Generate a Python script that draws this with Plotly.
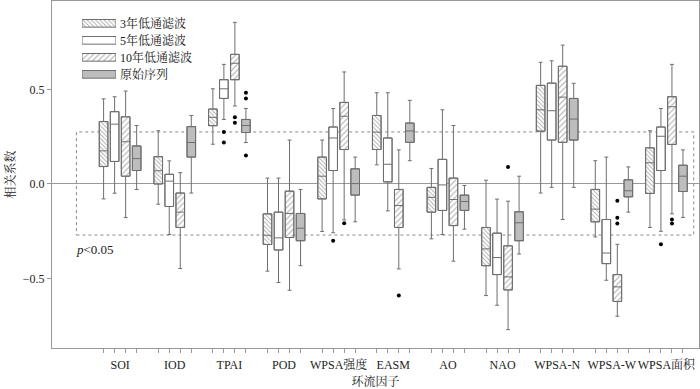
import plotly.graph_objects as go

categories = ['SOI', 'IOD', 'TPAI', 'POD', 'WPSA强度', 'EASM', 'AO', 'NAO', 'WPSA-N', 'WPSA-W', 'WPSA面积']
series_names = ['3年低通滤波', '5年低通滤波', '10年低通滤波', '原始序列']

# box statistics per series (one value per category)
upper_3 = [0.450, 0.281, 0.503, 0.031, 0.232, 0.482, 0.082, 0.020, 0.643, 0.123, 0.281]
q3_3 = [0.330, 0.144, 0.396, -0.158, 0.142, 0.362, -0.018, -0.230, 0.521, -0.029, 0.191]
med_3 = [0.175, 0.070, 0.352, -0.271, 0.041, 0.274, -0.071, -0.343, 0.392, -0.133, 0.112]
q1_3 = [0.092, 0.000, 0.308, -0.320, -0.079, 0.182, -0.149, -0.432, 0.279, -0.200, -0.050]
lower_3 = [-0.079, -0.107, 0.210, -0.461, -0.251, 0.101, -0.290, -0.590, -0.048, -0.280, -0.230]

upper_5 = [0.461, 0.122, 0.632, 0.031, 0.399, 0.482, 0.392, -0.080, 0.651, 0.142, 0.399]
q3_5 = [0.382, 0.051, 0.551, -0.149, 0.301, 0.243, 0.130, -0.260, 0.533, -0.188, 0.301]
med_5 = [0.316, 0.015, 0.503, -0.285, 0.243, 0.104, -0.005, -0.389, 0.387, -0.365, 0.252]
q1_5 = [0.119, -0.119, 0.452, -0.349, 0.071, 0.011, -0.140, -0.479, 0.232, -0.421, 0.071]
lower_5 = [-0.049, -0.267, 0.341, -0.521, -0.258, -0.142, -0.267, -0.641, -0.018, -0.509, -0.250]

upper_10 = [0.491, 0.060, 0.854, 0.232, 0.592, 0.180, 0.309, -0.091, 0.734, -0.319, 0.632]
q3_10 = [0.355, -0.048, 0.685, -0.038, 0.431, -0.029, 0.031, -0.327, 0.622, -0.479, 0.461]
med_10 = [0.223, -0.149, 0.638, -0.156, 0.358, -0.114, -0.082, -0.491, 0.459, -0.544, 0.408]
q1_10 = [0.041, -0.230, 0.551, -0.283, 0.182, -0.230, -0.220, -0.560, 0.220, -0.621, 0.209]
lower_10 = [-0.177, -0.447, 0.412, -0.562, -0.190, -0.449, -0.408, -0.770, -0.188, -0.699, -0.158]

upper_raw = [0.309, 0.362, 0.399, -0.029, 0.142, 0.442, -0.008, 0.041, 0.532, 0.090, 0.180]
q3_raw = [0.201, 0.303, 0.341, -0.156, 0.080, 0.322, -0.059, -0.147, 0.452, 0.022, 0.099]
med_raw = [0.134, 0.219, 0.309, -0.234, 0.002, 0.280, -0.093, -0.205, 0.343, -0.036, 0.041]
q1_raw = [0.071, 0.142, 0.272, -0.300, -0.059, 0.220, -0.140, -0.300, 0.232, -0.068, -0.040]
lower_raw = [-0.029, -0.048, 0.219, -0.432, -0.200, 0.123, -0.239, -0.370, -0.018, -0.149, -0.177]

# outliers: category index, series index, value
outlier_cat = [2, 2, 2, 2, 2, 2, 2, 4, 4, 5, 7, 9, 9, 9, 10, 10, 10]
outlier_series = [1, 1, 2, 2, 3, 3, 3, 1, 2, 2, 2, 2, 2, 2, 1, 2, 2]
outlier_val = [0.274, 0.219, 0.352, 0.323, 0.482, 0.452, 0.150, -0.300, -0.207, -0.590, 0.090,
               -0.089, -0.179, -0.209, -0.319, -0.188, -0.209]

sig_upper = 0.275
sig_lower = -0.270

stats = [
    (upper_3, q3_3, med_3, q1_3, lower_3),
    (upper_5, q3_5, med_5, q1_5, lower_5),
    (upper_10, q3_10, med_10, q1_10, lower_10),
    (upper_raw, q3_raw, med_raw, q1_raw, lower_raw),
]

STEP = 0.2017
BOXW = 0.158
offsets = [-1.5 * STEP, -0.5 * STEP, 0.5 * STEP, 1.5 * STEP]
FONT = "Liberation Serif, Noto Serif CJK SC, Noto Sans CJK SC, serif"
EDGE = '#6e6e6e'

bar_styles = [
    dict(color='white', pattern=dict(shape='\\', size=3, solidity=0.3, fgcolor='#555', bgcolor='white')),
    dict(color='white'),
    dict(color='white', pattern=dict(shape='/', size=4, solidity=0.25, fgcolor='#555', bgcolor='white')),
    dict(color='#bdbdbd'),
]

fig = go.Figure()
# hatched / filled box bodies
for s, (up, q3, md, q1, lo) in enumerate(stats):
    xs = [i + offsets[s] for i in range(len(categories))]
    m = dict(bar_styles[s])
    m['line'] = dict(color=EDGE, width=1)
    fig.add_trace(go.Bar(
        x=xs, y=[b - a for a, b in zip(q1, q3)], base=q1, width=BOXW,
        marker=m, name=series_names[s], showlegend=False, hoverinfo='skip'))
# box outlines, medians, whiskers
for s, (up, q3, md, q1, lo) in enumerate(stats):
    xs = [i + offsets[s] for i in range(len(categories))]
    fig.add_trace(go.Box(
        x=xs, q1=q1, median=md, q3=q3, lowerfence=lo, upperfence=up,
        width=BOXW, whiskerwidth=0.45, fillcolor='rgba(0,0,0,0)',
        line=dict(color=EDGE, width=1), showlegend=False, boxpoints=False,
        name=series_names[s]))

fig.add_trace(go.Scatter(
    x=[c + offsets[s] for c, s in zip(outlier_cat, outlier_series)], y=outlier_val,
    mode='markers', marker=dict(color='black', size=4), showlegend=False))

# legend key (wide swatches like the original) on a hidden helper axis
for s, name in enumerate(series_names):
    m = dict(bar_styles[s])
    m['line'] = dict(color=EDGE, width=1)
    fig.add_trace(go.Bar(
        x=[1], y=[s], base=[0], orientation='h', width=0.45, marker=m,
        xaxis='x3', yaxis='y3', showlegend=False, hoverinfo='skip'))
    fig.add_annotation(x=1, y=s, xref='x3', yref='y3', xanchor='left', yanchor='middle',
                       xshift=2, showarrow=False, text=name,
                       font=dict(family=FONT, size=12, color='#222'))

tick_pos = [i + o for i in range(len(categories)) for o in offsets]

fig.add_shape(type='rect', x0=-0.8, x1=10.5, y0=sig_lower, y1=sig_upper,
              line=dict(color='#8a8a8a', width=1, dash='dot'), layer='below')
fig.add_annotation(x=-0.85, y=-0.345, xanchor='left', yanchor='middle', showarrow=False,
                   text='<i>p</i>&lt;0.05', font=dict(family=FONT, size=13, color='#222'))

fig.update_layout(
    width=700, height=389,
    margin=dict(l=52, r=1, t=1, b=41),
    paper_bgcolor='white', plot_bgcolor='white',
    barmode='overlay', boxmode='overlay',
    font=dict(family=FONT, size=12, color='#222'),
    showlegend=False,
    xaxis=dict(range=[-1.247, 10.596], tickmode='array',
               tickvals=list(range(len(categories))), ticktext=categories,
               ticks='', tickangle=0, automargin=False, showgrid=False, zeroline=False,
               showline=True, linecolor='#999', linewidth=1, mirror=True,
               ticklabelstandoff=6,
               minor=dict(tickmode='array', tickvals=tick_pos, ticks='outside', ticklen=4,
                          tickcolor='#999', showgrid=False),
               title=dict(text='环流因子', standoff=6, font=dict(size=12))),
    yaxis=dict(range=[-0.867, 0.967], tickmode='array', tickvals=[-0.5, 0, 0.5],
               ticktext=['−0.5', '0.0', '0.5'], ticks='outside', ticklen=4, tickcolor='#999',
               automargin=False,
               showgrid=False, zeroline=True, zerolinecolor='#999', zerolinewidth=1,
               showline=True, linecolor='#999', linewidth=1, mirror=True,
               title=dict(text='相关系数', standoff=4, font=dict(size=12))),
    xaxis3=dict(domain=[0.0464, 0.0989], range=[0, 1], visible=False, anchor='y3',
                fixedrange=True),
    yaxis3=dict(domain=[0.7641, 0.9602], range=[3.5, -0.5], visible=False, anchor='x3',
                fixedrange=True),
)

fig.write_html("out.html", config={'displayModeBar': False},
               post_script="document.body.style.margin='0';")
